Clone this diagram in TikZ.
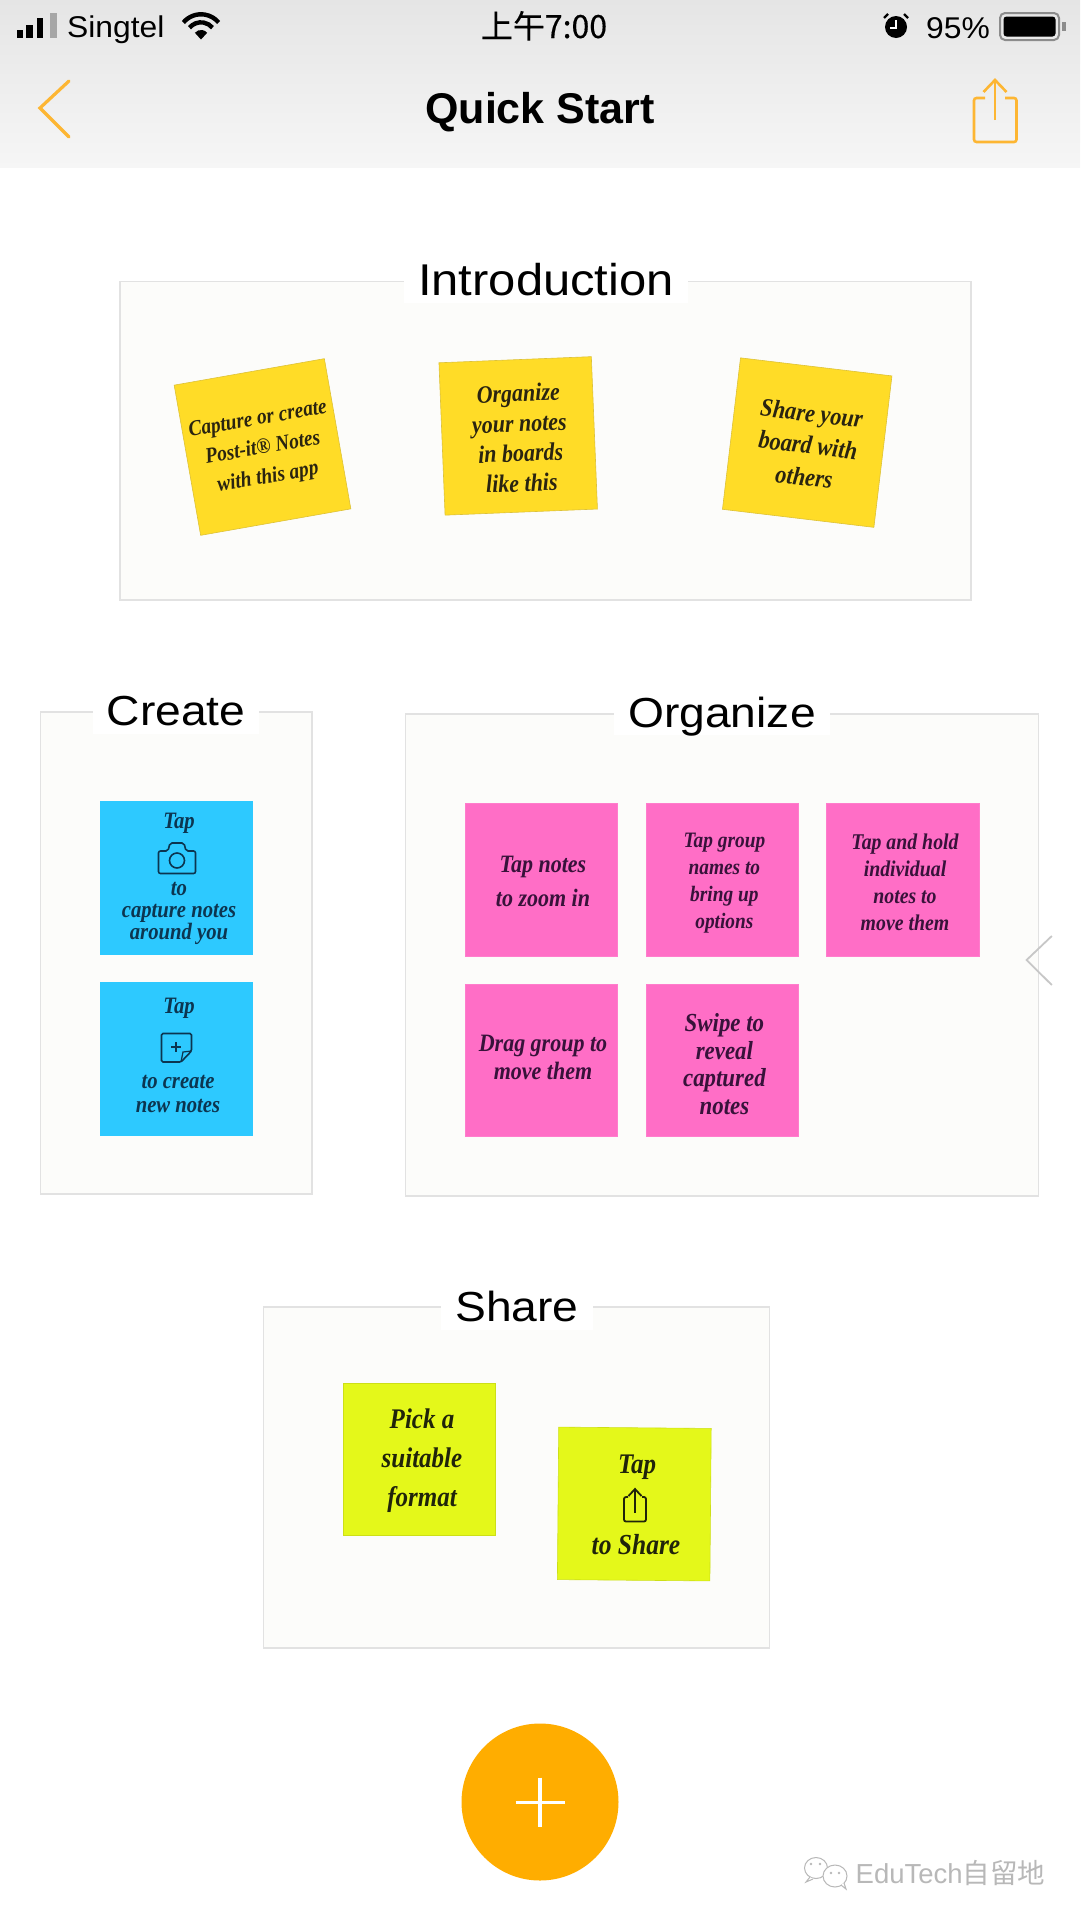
\documentclass[tikz,border=0pt]{standalone}
\usepackage{fontspec}
\setmainfont{Liberation Sans}
\newfontfamily\titlefont[FakeStretch=1.1]{Liberation Sans}
\newfontfamily\statusfont[FakeStretch=1.06]{Liberation Sans}
\newfontfamily\handfont[FakeStretch=0.88]{Liberation Serif}
\newfontfamily\cjkfont{Noto Sans CJK SC}
\newfontfamily\clockfont[FakeBold=0.4]{Noto Sans CJK SC}
\definecolor{barTop}{HTML}{E5E5E5}
\definecolor{barBottom}{HTML}{F6F6F6}
\definecolor{boxFill}{HTML}{FCFCFA}
\definecolor{boxLine}{HTML}{E2E2E2}
\definecolor{yellowNote}{HTML}{FFDC27}
\definecolor{blueNote}{HTML}{2DC9FF}
\definecolor{pinkNote}{HTML}{FF6EC6}
\definecolor{limeNote}{HTML}{E4F81A}
\definecolor{yellowInk}{HTML}{2A2410}
\definecolor{blueInk}{HTML}{0C3550}
\definecolor{pinkInk}{HTML}{38123A}
\definecolor{limeInk}{HTML}{20240A}
\definecolor{accentOrange}{HTML}{FDB633}
\definecolor{fabOrange}{HTML}{FFAD00}
\definecolor{wmGray}{HTML}{B8B8B8}
\tikzset{
  groupbox/.style={draw=boxLine,fill=boxFill,line width=1.3pt},
  grouptitle/.style={fill=white,anchor=base,inner xsep=14pt,inner ysep=0pt,text height=32pt,text depth=8pt,font=\titlefont\fontsize{#1}{#1}\selectfont},
  notebox/.style={minimum size=152.5pt,inner sep=0pt,line width=.6pt},
  ynote/.style={notebox,fill=yellowNote,draw=yellowNote!85!black!90},
  bnote/.style={notebox,fill=blueNote,draw=blueNote},
  pnote/.style={notebox,fill=pinkNote,draw=pinkNote!90!white},
  lnote/.style={notebox,fill=limeNote,draw=limeNote!90!black},
  hand/.style n args={3}{align=center,inner sep=0pt,text=#1,font=\handfont\bfseries\itshape\fontsize{#2}{#3}\selectfont},
  navicon/.style={draw=accentOrange,line width=3.2pt},
  statustext/.style={anchor=base,inner sep=0pt,font=\statusfont\fontsize{30}{30}\selectfont},
}
\begin{document}
\begin{tikzpicture}[x=1pt,y=-1pt]
\useasboundingbox (0,0) rectangle (1080,1920);
\fill[white] (0,0) rectangle (1080,1920);
% bar
\shade[top color=barTop,bottom color=barBottom] (0,0) rectangle (1080,167);
% status bar
\fill (16.5,30) rectangle (23.4,38.3);
\fill (26,25) rectangle (33,38.3);
\fill (36.5,18) rectangle (43.4,38.3);
\fill[black!35] (50,13.3) rectangle (57,38.3);
\node[statustext,anchor=base west] (carrier) at (67,37.5) {Singtel};
\fill (201,39.5) -- (194.9,32.8) arc[start angle=220,end angle=320,radius=8] -- cycle;
\draw[line width=4.4pt] (189.5,27.7) arc[start angle=220,end angle=320,radius=15];
\draw[line width=4.4pt] (183.4,22.5) arc[start angle=220,end angle=320,radius=23];
\node[anchor=base,inner sep=0pt,font=\clockfont\fontsize{32}{32}\selectfont] (clock) at (544,38) {上午7:00};
\fill (896,27) circle[radius=11];
\draw[white,line width=1.6pt] (896,20) -- (896,28) -- (890,28);
\draw[line width=2.4pt] (884,18) -- (888,14);
\draw[line width=2.4pt] (908,18) -- (904,14);
\node[statustext,anchor=base east] (battery level) at (990,38) {95\%};
\draw[black!45,line width=2pt,rounded corners=5pt] (1000,13) rectangle (1059,40);
\fill[rounded corners=3pt] (1003.5,16.5) rectangle (1055.5,36.5);
\fill[black!45] (1062,22) rectangle (1065.5,31);
% nav
\draw[navicon,line cap=round,line join=miter] (69,81) -- (40,108) -- (69,137);
\node[anchor=base,inner sep=0pt,font=\bfseries\fontsize{43}{43}\selectfont] (heading) at (540,123) {Quick Start};
\draw[navicon,line width=2.6pt,rounded corners=2.5pt] (985,98) -- (974,98) -- (974,142) -- (1016.5,142) -- (1016.5,98) -- (1005,98);
\draw[navicon,line width=2.6pt] (995,120) -- (995,80);
\draw[navicon,line width=2.6pt] (983.5,92) -- (995,80) -- (1006.5,92);
% groups
\draw[groupbox] (120,281.7) rectangle (971,600);
\draw[groupbox] (40.7,712) rectangle (312,1194);
\draw[groupbox] (405.7,714) rectangle (1038.6,1196);
\draw[groupbox] (263.8,1307) rectangle (769.6,1648);
\node[grouptitle=44.5] (intro title) at (546,295) {Introduction};
\node[grouptitle=42] (create title) at (176,725.7) {Create};
\node[grouptitle=42] (organize title) at (722,727) {Organize};
\node[grouptitle=42] (share title) at (517,1321.7) {Share};
% introduction notes
\node[ynote,rotate=10] (n1) at (262.5,447) {};
\node[hand={yellowInk}{22}{29.5},rotate=10] (t1) at (263,449) {Capture or create\\Post-it® Notes\\with this app};
\node[ynote,rotate=2.3] (n2) at (518.2,435.9) {};
\node[hand={yellowInk}{25}{30},rotate=2.3] (t2) at (520,438) {Organize\\your notes\\in boards\\like this};
\node[ynote,rotate=-6.8] (n3) at (807.2,442.6) {};
\node[hand={yellowInk}{25.5}{32},rotate=-6.8] (t3) at (808,445) {Share your\\board with\\others};
% create notes
\node[bnote] (c1) at (176.3,878) {};
\node[hand={blueInk}{23.5}{20}] (c1a) at (179,823) {Tap};
\draw[blueInk,line width=1.6pt,rounded corners=2pt] (158.5,851) -- (168,851) -- (170,843) -- (184,843) -- (186,851) -- (195.5,851) -- (195.5,873.5) -- (158.5,873.5) -- cycle;
\draw[blueInk,line width=1.6pt] (177,860.5) circle[radius=7.5];
\node[hand={blueInk}{23.5}{22}] (c1b) at (179,913) {to\\capture notes\\around you};
\node[bnote] (c2) at (176.3,1059) {};
\node[hand={blueInk}{23.5}{20}] (c2a) at (179,1008) {Tap};
\draw[blueInk,line width=1.6pt,rounded corners=1.5pt] (161.5,1033.5) -- (191.5,1033.5) -- (191.5,1051) -- (181,1062) -- (161.5,1062) -- cycle;
\draw[blueInk,line width=1.2pt] (191.5,1051) -- (183,1052) -- (181,1062);
\draw[blueInk,line width=1.6pt] (171,1047) -- (181,1047) (176,1042) -- (176,1052);
\node[hand={blueInk}{23.5}{24}] (c2b) at (178,1094) {to create\\new notes};
% organize notes
\node[pnote] (o1) at (541.5,879.8) {};
\node[hand={pinkInk}{25}{34}] (o1t) at (543,881) {Tap notes\\to zoom in};
\node[pnote] (o2) at (722.2,879.8) {};
\node[hand={pinkInk}{22}{27}] (o2t) at (724.4,883) {Tap group\\names to\\bring up\\options};
\node[pnote] (o3) at (903,879.8) {};
\node[hand={pinkInk}{22.5}{27}] (o3t) at (905,882) {Tap and hold\\individual\\notes to\\move them};
\node[pnote] (o4) at (541.5,1060.5) {};
\node[hand={pinkInk}{25}{28}] (o4t) at (543,1057) {Drag group to\\move them};
\node[pnote] (o5) at (722.2,1060.5) {};
\node[hand={pinkInk}{26}{27.5}] (o5t) at (724.4,1064) {Swipe to\\reveal\\captured\\notes};
% share notes
\node[lnote] (s1) at (419.5,1459.3) {};
\node[hand={limeInk}{28.4}{39}] (s1t) at (422,1461) {Pick a\\suitable\\format};
\node[lnote,rotate=-0.5] (s2) at (634.3,1504) {};
\node[hand={limeInk}{28.4}{25}] (s2a) at (637,1467) {Tap};
\draw[limeInk,line width=1.8pt,rounded corners=2pt] (628,1497) -- (624,1497) -- (624,1521.5) -- (646,1521.5) -- (646,1497) -- (642,1497);
\draw[limeInk,line width=1.8pt] (635,1513) -- (635,1489);
\draw[limeInk,line width=1.8pt] (628.5,1496) -- (635,1489) -- (641.5,1496);
\node[hand={limeInk}{29}{25}] (s2b) at (636,1545) {to Share};
% side chevron
\draw[black!22,line width=1.8pt] (1051.8,936) -- (1026.6,960) -- (1051.8,985);
% fab
\node[circle,fill=fabOrange,minimum size=157pt,inner sep=0pt] (add) at (540,1802) {};
\draw[white,line width=3.6pt] (515.5,1802.5) -- (564.5,1802.5);
\draw[white,line width=3.6pt] (540,1777.7) -- (540,1827.3);
% watermark
\draw[wmGray,fill=white,line width=1pt] (816,1868) ellipse[x radius=11.5,y radius=10.5];
\draw[wmGray,fill=white,line width=1pt] (810,1877) -- (806,1882) -- (813,1879);
\draw[wmGray,fill=white,line width=1pt] (835,1876) ellipse[x radius=12,y radius=11];
\draw[wmGray,fill=white,line width=1pt] (841,1885) -- (846,1889) -- (844,1883);
\fill[wmGray] (811,1864) circle[radius=1.3] (820,1864) circle[radius=1.3] (831,1873) circle[radius=1.3] (839,1873) circle[radius=1.3];
\node[anchor=base west,inner sep=0pt,text=wmGray,font=\fontsize{27.5}{27.5}\selectfont] (wm) at (855.5,1883) {EduTech{\cjkfont\fontsize{27.5}{27.5}\selectfont 自留地}};
\end{tikzpicture}
\end{document}
